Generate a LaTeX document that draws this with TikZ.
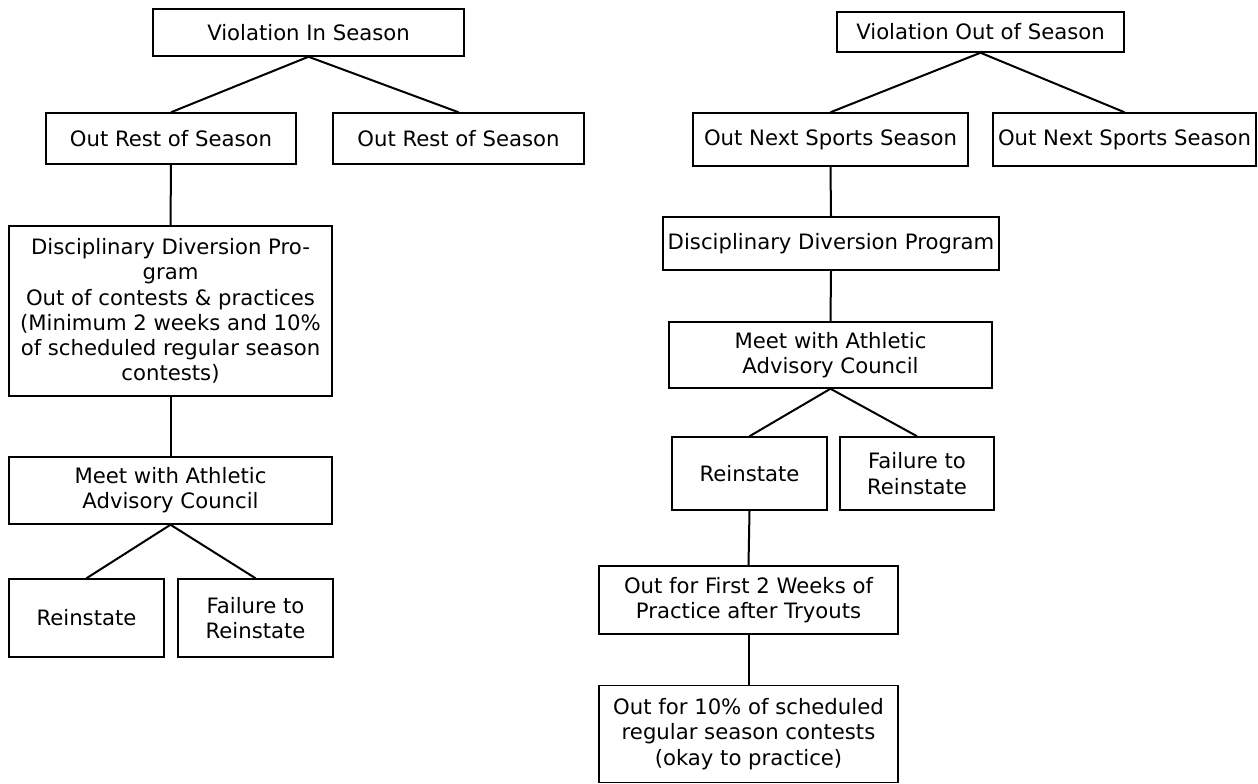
\documentclass[tikz,border=0pt]{standalone}
\usepackage{fontspec}
\setmainfont{DejaVu Sans}
\begin{document}
\begin{tikzpicture}[x=1pt,y=-1pt,
  box/.style={draw=black,line width=1.5pt,rectangle,inner sep=0pt,align=center,
    font=\fontsize{21.2}{25.2}\selectfont},
  conn/.style={draw=black,line width=2pt}]
\useasboundingbox (0,0) rectangle (1258,784);
% left tree
\node[box,minimum width=311pt,minimum height=47pt] (L1) at (308.5,32.5) {Violation In Season};
\node[box,minimum width=250pt,minimum height=51pt] (L2a) at (171,138.5) {Out Rest of Season};
\node[box,minimum width=251pt,minimum height=51pt] (L2b) at (458.5,138.5) {Out Rest of Season};
\node[box,minimum width=323pt,minimum height=170pt] (L3) at (170.5,311) {Disciplinary Diversion Pro-\\gram\\Out of contests \& practices\\(Minimum 2 weeks and 10\%\\of scheduled regular season\\contests)};
\node[box,minimum width=323pt,minimum height=67pt] (L4) at (170.5,490.5) {Meet with Athletic\\Advisory Council};
\node[box,minimum width=155pt,minimum height=78pt] (L5a) at (86.5,618) {Reinstate};
\node[box,minimum width=155pt,minimum height=78pt] (L5b) at (255.5,618) {Failure to\\Reinstate};
\draw[conn] (L1.south) -- (L2a.north);
\draw[conn] (L1.south) -- (L2b.north);
\draw[conn] (L2a.south) -- (L3.north);
\draw[conn] (L3.south) -- (L4.north);
\draw[conn] (L4.south) -- (L5a.north);
\draw[conn] (L4.south) -- (L5b.north);
% right tree
\node[box,minimum width=287pt,minimum height=40pt] (R1) at (980.5,32) {Violation Out of Season};
\node[box,minimum width=275pt,minimum height=53pt] (R2a) at (830.5,139.5) {Out Next Sports Season};
\node[box,minimum width=263pt,minimum height=53pt] (R2b) at (1124.5,139.5) {Out Next Sports Season};
\node[box,minimum width=336pt,minimum height=53pt] (R3) at (831,243.5) {Disciplinary Diversion Program};
\node[box,minimum width=323pt,minimum height=66pt] (R4) at (830.5,355) {Meet with Athletic\\Advisory Council};
\node[box,minimum width=155pt,minimum height=73pt] (R5a) at (749.5,473.5) {Reinstate};
\node[box,minimum width=154pt,minimum height=73pt] (R5b) at (917,473.5) {Failure to\\Reinstate};
\node[box,minimum width=299pt,minimum height=68pt] (R6) at (748.5,600) {Out for First 2 Weeks of\\Practice after Tryouts};
\node[box,minimum width=299pt,minimum height=97pt] (R7) at (748.5,734) {Out for 10\% of scheduled\\regular season contests\\(okay to practice)};
\draw[conn] (R1.south) -- (R2a.north);
\draw[conn] (R1.south) -- (R2b.north);
\draw[conn] (R2a.south) -- (R3.north);
\draw[conn] (R3.south) -- (R4.north);
\draw[conn] (R4.south) -- (R5a.north);
\draw[conn] (R4.south) -- (R5b.north);
\draw[conn] (R5a.south) -- (R6.north);
\draw[conn] (R6.south) -- (R7.north);
\end{tikzpicture}
\end{document}
